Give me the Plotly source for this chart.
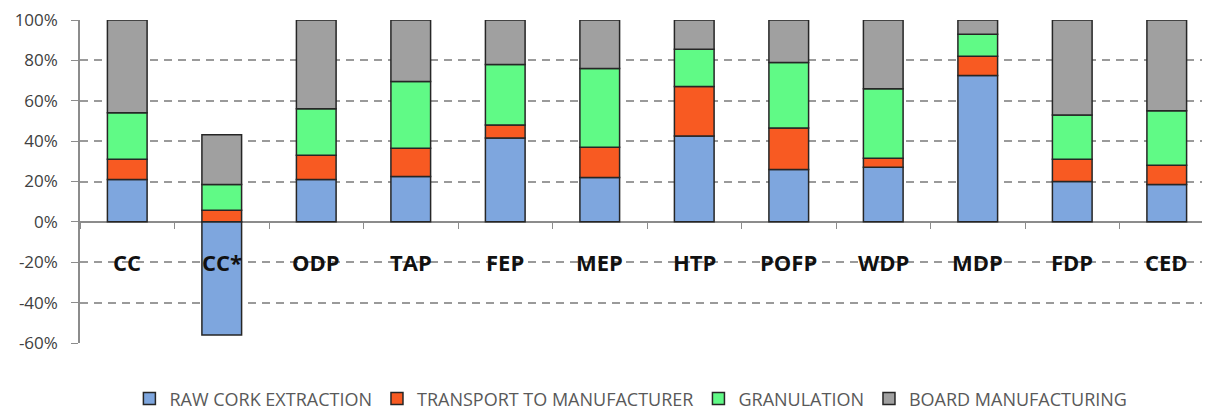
import plotly.graph_objects as go

categories = ["CC", "CC*", "ODP", "TAP", "FEP", "MEP", "HTP", "POFP", "WDP", "MDP", "FDP", "CED"]
raw_cork = [21, -56, 21, 22.5, 41.5, 22, 42.5, 26, 27, 72.5, 20, 18.5]
transport = [10, 5.7, 12, 14, 6.5, 15, 24.5, 20.5, 4.5, 9.5, 11, 9.5]
granulation = [23, 12.8, 23, 33, 30, 39, 18.5, 32.5, 34.5, 11, 22, 27]
board = [46, 24.7, 44, 30.5, 22, 24, 14.5, 21, 34, 7, 47, 45]

series_names = ["RAW CORK EXTRACTION", "TRANSPORT TO MANUFACTURER", "GRANULATION", "BOARD MANUFACTURING"]
series_vals = [raw_cork, transport, granulation, board]
colors = ["#7EA6DE", "#F85A22", "#60FA86", "#A0A0A0"]
y_ticks = [-60, -40, -20, 0, 20, 40, 60, 80, 100]

fig = go.Figure()
for name, vals, col in zip(series_names, series_vals, colors):
    fig.add_trace(go.Bar(
        x=categories, y=vals, name=name,
        marker=dict(color=col, line=dict(color="#262626", width=1.5)),
        width=0.42,
    ))

for c in categories:
    fig.add_annotation(x=c, y=-20, text="<b>%s</b>" % c, showarrow=False,
                       xref="x", yref="y", yanchor="middle",
                       font=dict(family="Open Sans", size=22, color="#111111"))

fig.update_layout(
    barmode="relative",
    width=1194, height=402,
    margin=dict(l=72, r=0, t=12, b=67, autoexpand=False),
    paper_bgcolor="white", plot_bgcolor="white",
    showlegend=True,
    legend=dict(orientation="h", x=0.491, xanchor="center", y=-0.173, yanchor="middle",
                font=dict(family="Open Sans", size=18, color="#595959"),
                itemclick=False, traceorder="normal"),
    xaxis=dict(
        type="category", categoryorder="array", categoryarray=categories,
        range=[-0.5, 11.373],
        anchor="free", position=0.375,
        showline=True, linecolor="#8c8c8c", linewidth=1.5,
        ticks="outside", tickson="boundaries", ticklen=6, tickcolor="#8c8c8c", tickwidth=1.2,
        showticklabels=False, showgrid=False, zeroline=False, layer="below traces",
    ),
    yaxis=dict(
        range=[-60, 100], tickvals=y_ticks, ticktext=["%d%%" % v for v in y_ticks],
        showline=True, linecolor="#8c8c8c", linewidth=1.5,
        ticks="outside", ticklen=7, tickcolor="#8c8c8c",
        showgrid=True, gridcolor="#9a9a9a", gridwidth=1.5, griddash="8px,6px",
        zeroline=False, automargin=False, ticklabeloverflow="allow",
        tickfont=dict(family="Open Sans", size=17, color="#404040"),
        ticklabelstandoff=10,
    ),
)

fig.write_html("out.html")
